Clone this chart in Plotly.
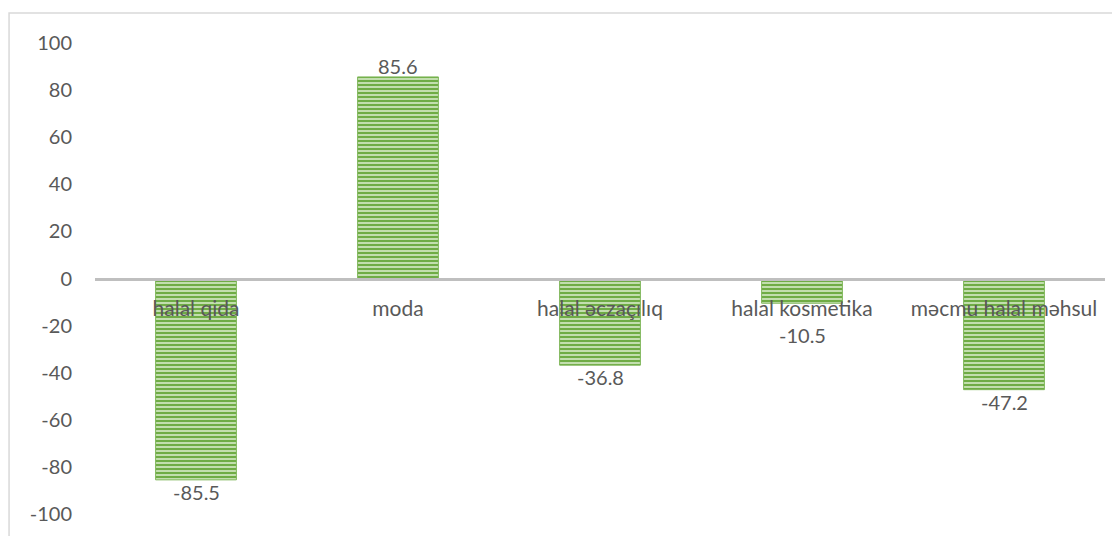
import plotly.graph_objects as go

categories = ["halal qida", "moda", "halal əczaçılıq", "halal kosmetika", "məcmu halal məhsul"]
values = [-85.5, 85.6, -36.8, -10.5, -47.2]
ytick_vals = [-100, -80, -60, -40, -20, 0, 20, 40, 60, 80, 100]
ytick_text = ["-100", "-80", "-60", "-40", "-20", "0", "20", "40", "60", "80", "100"]

font_color = "#595959"
fs = 20
cat_fs = 21

# layout geometry (page has an 8px body margin)
W, H = 1112, 528
ML, MR, MT, MB = 87, 15, 35, 22
plot_h = H - MT - MB
px_per_unit = plot_h / 200.0

fig = go.Figure()
fig.add_trace(go.Bar(
    x=categories,
    y=values,
    cliponaxis=False,
    marker=dict(
        color="#c2deae",
        line=dict(width=1, color="#7fb75a"),
        pattern=dict(shape="-", fgcolor="#6fac45", fgopacity=1,
                     size=4, solidity=0.5, fillmode="overlay"),
    ),
))

# data labels: just outside bar end, kept clear of the category labels
annotations = []
for c, v in zip(categories, values):
    if v >= 0:
        shift = 11
    else:
        end_px = abs(v) * px_per_unit
        below = max(end_px + 12, 56)
        shift = -(below - end_px)
    annotations.append(dict(
        x=c, y=v, xref="x", yref="y", text=f"{v:.1f}",
        showarrow=False, yanchor="middle", yshift=shift,
        font=dict(size=fs, color=font_color),
    ))

fig.update_layout(
    width=W, height=H,
    margin=dict(l=ML, r=MR, t=MT, b=MB, autoexpand=False),
    paper_bgcolor="white",
    plot_bgcolor="white",
    font=dict(family="Lato, Liberation Sans, sans-serif", size=fs, color=font_color),
    bargap=0.6,
    showlegend=False,
    annotations=annotations,
    xaxis=dict(
        anchor="free", position=0.5, automargin=False,
        showline=True, linecolor="#bfbfbf", linewidth=3,
        showgrid=False, zeroline=False,
        ticks="", ticklabelstandoff=10,
        tickfont=dict(size=cat_fs, color=font_color),
    ),
    yaxis=dict(
        range=[-100, 100], automargin=False,
        tickvals=ytick_vals, ticktext=ytick_text,
        showgrid=False, zeroline=False, showline=False,
        ticks="", ticklabelstandoff=22,
        tickfont=dict(size=fs, color=font_color),
    ),
    shapes=[dict(
        type="rect", xref="paper", yref="paper",
        x0=-0.0851, x1=1.05, y0=-0.2, y1=1.0637,
        line=dict(color="#d9d9d9", width=1.5),
        fillcolor="rgba(0,0,0,0)", layer="below",
    )],
)

fig.write_html("out.html")
